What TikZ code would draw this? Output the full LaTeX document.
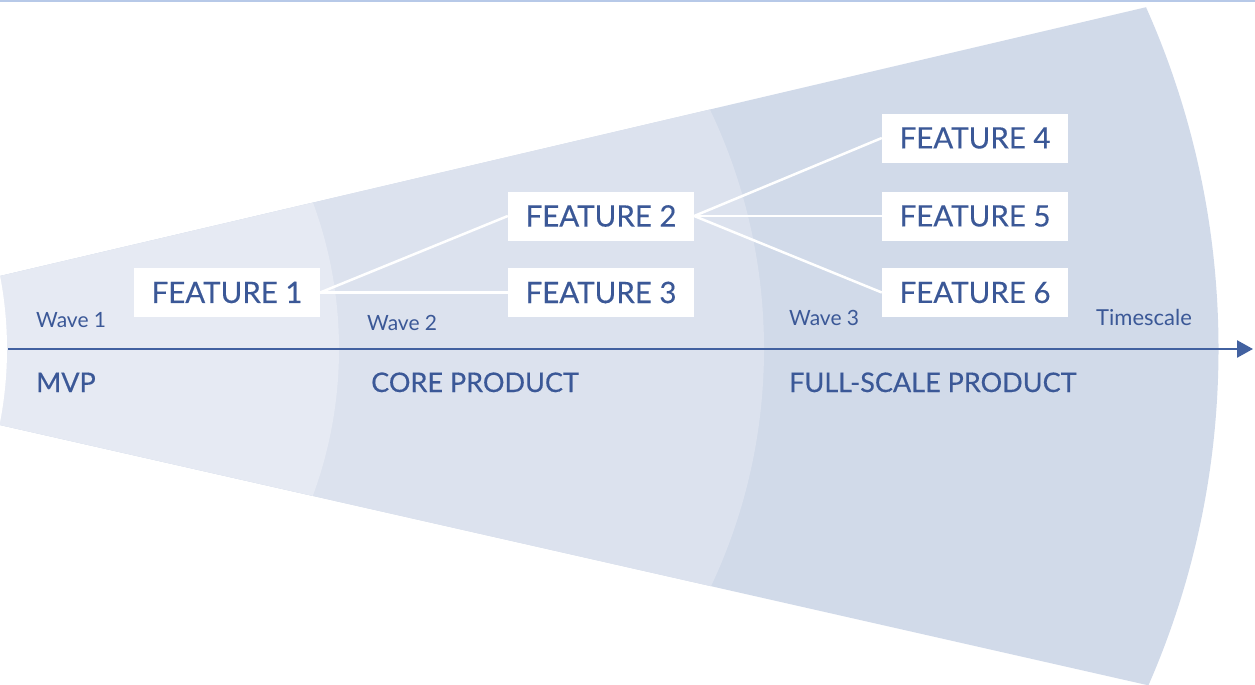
\documentclass[tikz,border=0pt]{standalone}
\usepackage{fontspec}
\setmainfont{Lato}
\newfontfamily\latoheavy[FakeBold=0.35]{Lato}
\usetikzlibrary{arrows.meta}
\definecolor{rA}{HTML}{E6EAF3}
\definecolor{rB}{HTML}{DCE2EE}
\definecolor{rC}{HTML}{D1DAE9}
\definecolor{ink}{HTML}{3B5897}
\definecolor{axisc}{HTML}{4261A0}
\definecolor{topln}{HTML}{B7C9E8}
\begin{document}
\begin{tikzpicture}[x=1pt,y=-1pt,
  featbox/.style={fill=white, minimum width=186pt, minimum height=49pt, inner sep=0pt, text=ink, font=\latoheavy\fontsize{29.5}{31}\selectfont},
  wavelbl/.style={anchor=base west, inner sep=0pt, text=ink, font=\fontsize{21}{23}\selectfont},
  phaselbl/.style={anchor=base west, inner sep=0pt, text=ink, font=\latoheavy\fontsize{27}{29}\selectfont},
  link/.style={draw=white, line width=2.5pt},
  axisline/.style={draw=axisc, line width=2.5pt, -{Triangle[length=16pt,width=17pt]}}]
\useasboundingbox (0,0) rectangle (1255,685);
% fan regions
\begin{scope}
  \clip (0,276) -- (1300,-28.9) -- (1300,719.7) -- (0,425) -- cycle;
  \clip (379,349) circle[radius=839.5pt];
  \fill[rC] (0,0) rectangle (1255,685);
  \fill[rB] (208,349) circle[radius=556pt];
  \fill[rA] (-84,349) circle[radius=423pt];
  \fill[white] (-377,349) circle[radius=384pt];
\end{scope}
\draw[topln, line width=2pt] (0,1) -- (1255,1);
% feature boxes
\node[featbox] (f1) at (227,292.5) {FEATURE 1};
\node[featbox] (f2) at (601,216) {FEATURE 2};
\node[featbox] (f3) at (601,292.5) {FEATURE 3};
\node[featbox] (f4) at (975,138) {FEATURE 4};
\node[featbox] (f5) at (975,216) {FEATURE 5};
\node[featbox] (f6) at (975,292.5) {FEATURE 6};
% connectors
\draw[link] (f1.east) -- (f2.west);
\draw[link] (f1.east) -- (f3.west);
\draw[link] (f2.east) -- (f4.west);
\draw[link] (f2.east) -- (f5.west);
\draw[link] (f2.east) -- (f6.west);
% axis
\coordinate (axL) at (8,349);
\coordinate (axR) at (1253,349);
\draw[axisline] (axL) -- (axR);
% labels
\node[wavelbl] (w1) at (36,327) {Wave 1};
\node[wavelbl] (w2) at (367,330) {Wave 2};
\node[wavelbl] (w3) at (789,325) {Wave 3};
\node[wavelbl, font=\fontsize{22}{24}\selectfont] (ts) at (1096,325) {Timescale};
\node[phaselbl] (p1) at (36,392) {MVP};
\node[phaselbl] (p2) at (371,392) {CORE PRODUCT};
\node[phaselbl] (p3) at (789,392) {FULL-SCALE PRODUCT};
\end{tikzpicture}
\end{document}
